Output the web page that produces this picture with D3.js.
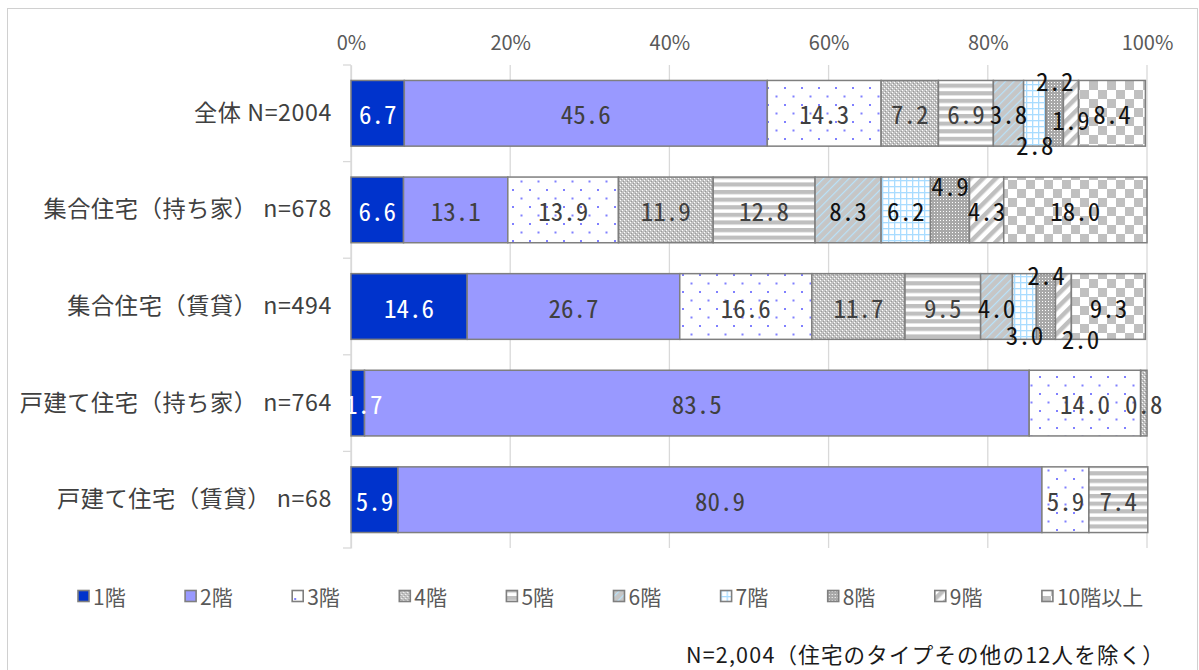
<!DOCTYPE html>
<html>
<head>
<meta charset="utf-8">
<script src="https://cdn.jsdelivr.net/npm/d3@7/dist/d3.min.js"></script>
<style>
  html, body { margin: 0; padding: 0; background: #fff; }
  svg { display: block; }
  .jp { font-family: "Noto Sans CJK JP", "Noto Sans", sans-serif; }
  .num { font-family: "Noto Sans CJK JP", "Noto Sans", sans-serif; font-feature-settings: "hwid" 1; }
</style>
</head>
<body>
<svg id="chart" width="1199" height="670"></svg>
<script>
// Dwelling type (rows) and floor of residence (stack segments), in percent
const categories = [
  "全体 N=2004",
  "集合住宅（持ち家） n=678",
  "集合住宅（賃貸） n=494",
  "戸建て住宅（持ち家） n=764",
  "戸建て住宅（賃貸） n=68"
];
const floors = ["1階", "2階", "3階", "4階", "5階", "6階", "7階", "8階", "9階", "10階以上"];
const sharesAll        = [6.7, 45.6, 14.3, 7.2, 6.9, 3.8, 2.8, 2.2, 1.9, 8.4];
const sharesCondoOwned = [6.6, 13.1, 13.9, 11.9, 12.8, 8.3, 6.2, 4.9, 4.3, 18.0];
const sharesCondoRent  = [14.6, 26.7, 16.6, 11.7, 9.5, 4.0, 3.0, 2.4, 2.0, 9.3];
const sharesHouseOwned = [1.7, 83.5, 14.0, 0.8, 0, 0, 0, 0, 0, 0];
const sharesHouseRent  = [5.9, 80.9, 5.9, 0, 7.4, 0, 0, 0, 0, 0];
const xTicks = [0, 20, 40, 60, 80, 100];
const footnote = "N=2,004（住宅のタイプその他の12人を除く）";

const rows = [sharesAll, sharesCondoOwned, sharesCondoRent, sharesHouseOwned, sharesHouseRent];

// hand-placed labels for the thin segments: [row, floor index, dx, dy]
const labelNudges = [
  [0, 6, 0, 31], [0, 7, 0, -33], [0, 8, 0, 6],
  [1, 7, 0, -25],
  [2, 6, 0, 27], [2, 7, 0, -33], [2, 8, 17, 31],
  [3, 0, 6, 0]
];

const svg = d3.select("#chart");
const defs = svg.append("defs");

// ---- fill patterns, one per floor ----
function pattern(id, w, h, build, transform) {
  const p = defs.append("pattern").attr("id", id)
    .attr("patternUnits", "userSpaceOnUse").attr("width", w).attr("height", h);
  if (transform) p.attr("patternTransform", transform);
  build(p);
}
pattern("p3", 17, 17, p => {
  p.append("rect").attr("width", 17).attr("height", 17).attr("fill", "#fff");
  p.append("rect").attr("x", 2).attr("y", 2).attr("width", 2).attr("height", 2).attr("fill", "#8080ff");
  p.append("rect").attr("x", 10.5).attr("y", 10.5).attr("width", 2).attr("height", 2).attr("fill", "#8080ff");
});
pattern("p4", 4, 4, p => {
  p.append("rect").attr("width", 4).attr("height", 4).attr("fill", "#c2c2c2");
  [[0, 0], [2, 2]].forEach(([x, y]) => p.append("rect").attr("x", x).attr("y", y).attr("width", 1).attr("height", 1).attr("fill", "#fff"));
  [[1, 3], [3, 1]].forEach(([x, y]) => p.append("rect").attr("x", x).attr("y", y).attr("width", 1).attr("height", 1).attr("fill", "#9a9a9a"));
});
pattern("p5", 8, 7.6, p => {
  p.append("rect").attr("width", 8).attr("height", 7.6).attr("fill", "#fff");
  p.append("rect").attr("width", 8).attr("height", 4.2).attr("fill", "#bfbfbf");
});
pattern("p6", 6, 6, p => {
  p.append("rect").attr("width", 6).attr("height", 6).attr("fill", "#c6c6c6");
  p.append("rect").attr("width", 1.2).attr("height", 6).attr("fill", "#b9e2fa");
}, "rotate(45)");
pattern("p7", 6, 6, p => {
  p.append("rect").attr("width", 6).attr("height", 6).attr("fill", "#fff");
  p.append("rect").attr("width", 6).attr("height", 1.3).attr("fill", "#a9dcff");
  p.append("rect").attr("width", 1.3).attr("height", 6).attr("fill", "#a9dcff");
});
pattern("p8", 3, 3, p => {
  p.append("rect").attr("width", 3).attr("height", 3).attr("fill", "#a8a8a8");
  p.append("rect").attr("x", 1).attr("y", 1).attr("width", 1).attr("height", 1).attr("fill", "#fff");
});
pattern("p9", 9, 9, p => {
  p.append("rect").attr("width", 9).attr("height", 9).attr("fill", "#fff");
  p.append("rect").attr("width", 4.5).attr("height", 9).attr("fill", "#bfbfbf");
}, "rotate(45)");
pattern("p10", 18, 18, p => {
  p.append("rect").attr("width", 18).attr("height", 18).attr("fill", "#fff");
  p.append("rect").attr("width", 9).attr("height", 9).attr("fill", "#c0c0c0");
  p.append("rect").attr("x", 9).attr("y", 9).attr("width", 9).attr("height", 9).attr("fill", "#c0c0c0");
});
const fills = ["#0033cc", "#9999ff", "url(#p3)", "url(#p4)", "url(#p5)", "url(#p6)",
               "url(#p7)", "url(#p8)", "url(#p9)", "url(#p10)"];
const labelColors = ["#ffffff", "#404040", "#404040", "#404040", "#404040",
                     "#111", "#111", "#111", "#111", "#111"];

// ---- outer frame ----
svg.append("rect").attr("x", 7.5).attr("y", 8.5).attr("width", 1190).attr("height", 680)
  .attr("fill", "none").attr("stroke", "#d0d0d0").attr("stroke-width", 1);

// ---- scales ----
const x = d3.scaleLinear().domain([0, 100]).range([351, 1147]);
const y = d3.scaleBand().domain(categories).range([65, 548]).paddingInner(0.32).paddingOuter(0.16);

// gridlines
svg.append("g").selectAll("line").data(xTicks).join("line")
  .attr("x1", d => x(d)).attr("x2", d => x(d))
  .attr("y1", 65).attr("y2", 548)
  .attr("stroke", "#d9d9d9").attr("stroke-width", 1.3);

// top percent axis
const xAxis = svg.append("g").attr("transform", "translate(0,50)")
  .call(d3.axisTop(x).tickValues(xTicks).tickFormat(d => d + "%").tickSize(0).tickPadding(0));
xAxis.select(".domain").remove();
xAxis.selectAll("text").attr("class", "jp").attr("font-size", 20).attr("fill", "#595959");

// category axis with separator ticks
const yAxis = svg.append("g").attr("transform", "translate(351,0)")
  .call(d3.axisLeft(y).tickSize(0).tickPadding(19));
yAxis.select(".domain").attr("stroke", "#d9d9d9").attr("stroke-width", 1.3);
yAxis.selectAll("text").attr("class", "jp").attr("font-size", 23.2).attr("fill", "#404040")
  .attr("letter-spacing", 0.6);
const sep = d3.range(categories.length + 1).map(i => 65 + i * y.step());
svg.append("g").selectAll("line").data(sep).join("line")
  .attr("x1", 343).attr("x2", 351).attr("y1", d => d).attr("y2", d => d)
  .attr("stroke", "#d9d9d9").attr("stroke-width", 1.3);

// ---- stacked bars ----
const segs = [];
rows.forEach((vals, r) => {
  let acc = 0;
  vals.forEach((v, f) => {
    if (v > 0) segs.push({ r, f, v, x0: acc, x1: acc + v });
    acc += v;
  });
});

svg.append("g").selectAll("rect").data(segs).join("rect")
  .attr("x", d => x(d.x0)).attr("width", d => x(d.x1) - x(d.x0))
  .attr("y", d => y(categories[d.r])).attr("height", y.bandwidth())
  .attr("fill", d => fills[d.f])
  .attr("stroke", "#7f7f7f").attr("stroke-width", 1.5);

// value labels
const nudge = (d) => labelNudges.find(n => n[0] === d.r && n[1] === d.f) || [0, 0, 0, 0];
svg.append("g").selectAll("text").data(segs).join("text")
  .attr("class", "num")
  .attr("x", d => (x(d.x0) + x(d.x1)) / 2 + nudge(d)[2])
  .attr("y", d => y(categories[d.r]) + y.bandwidth() / 2 + nudge(d)[3])
  .attr("text-anchor", "middle").attr("dominant-baseline", "central")
  .attr("font-size", 25).attr("fill", d => labelColors[d.f])
  .text(d => d.v.toFixed(1));

// ---- legend ----
const lg = svg.append("g").selectAll("g").data(floors).join("g")
  .attr("transform", (d, i) => `translate(${78 + i * 107.1},596)`);
lg.append("rect").attr("x", 0).attr("y", -5.5).attr("width", 11).attr("height", 11)
  .attr("fill", (d, i) => fills[i]).attr("stroke", "#7f7f7f").attr("stroke-width", 1.6);
lg.append("text").attr("class", "jp").attr("x", 15).attr("y", 0)
  .attr("dominant-baseline", "central").attr("font-size", 21).attr("fill", "#595959")
  .text(d => d);

// ---- footnote ----
svg.append("text").attr("class", "jp").attr("x", 1165).attr("y", 653)
  .attr("text-anchor", "end").attr("dominant-baseline", "central")
  .attr("font-size", 21.5).attr("letter-spacing", 1.2).attr("fill", "#1a1a1a")
  .text(footnote);
</script>
</body>
</html>
